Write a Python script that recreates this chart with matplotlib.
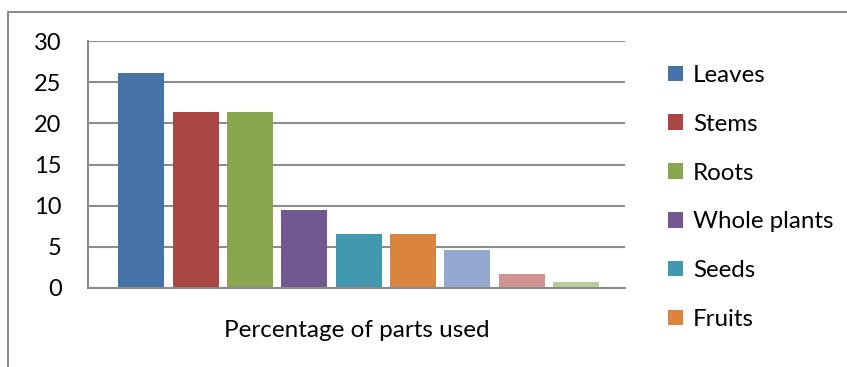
import matplotlib.pyplot as plt
from matplotlib.patches import Rectangle

# parts of the plant and share of use (%)
parts = ['Leaves', 'Stems', 'Roots', 'Whole plants', 'Seeds', 'Fruits',
         'Flowers', 'Bark', 'Others']
percent = [26.1, 21.4, 21.4, 9.5, 6.6, 6.6, 4.6, 1.7, 0.7]
colors = ['#4572A7', '#AA4643', '#89A54E', '#71588F', '#4198AF',
          '#DB843D', '#93A9CF', '#D19392', '#B9CD96']
shown_in_legend = 6  # legend is cut off by the chart edge after "Fruits"

plt.rcParams['font.family'] = ['Lato', 'DejaVu Sans']
grid_grey = '#8c8c8c'

W, H = 847, 367
fig = plt.figure(figsize=(W / 100, H / 100), dpi=100)
ax = fig.add_axes([88 / W, 1 - 288 / H, (625 - 88) / W, (288 - 41) / H])

handles = []
for i, (p, v, c) in enumerate(zip(parts, percent, colors)):
    handles.append(ax.bar(i, v, width=0.85, color=c, label=p, zorder=2))

ax.set_xlim(-0.98, 8.9)
ax.set_ylim(0, 30)
ax.set_yticks(range(0, 31, 5))
ax.set_xticks([])
ax.tick_params(axis='y', length=0, pad=19, labelsize=17)
ax.yaxis.grid(True, color=grid_grey, lw=1.5)
ax.set_axisbelow(True)
for s in ['top', 'right']:
    ax.spines[s].set_visible(False)
for s in ['left', 'bottom']:
    ax.spines[s].set_color(grid_grey)
    ax.spines[s].set_linewidth(1.5)
    ax.spines[s].set_zorder(3)

ax.set_xlabel('Percentage of parts used', fontsize=17.5, labelpad=23)

fig.legend(handles=handles[:shown_in_legend], loc='upper left',
           bbox_to_anchor=(668 / W, 1 - 65 / H), frameon=False,
           fontsize=17.4, handlelength=0.62, handleheight=0.62,
           handletextpad=0.42, labelspacing=1.15, borderpad=0, borderaxespad=0)

# outer chart frame (cut off on the right and bottom)
fig.patches.append(Rectangle((8 / W, -0.1), 1.0, 1.1 - 12 / H,
                             transform=fig.transFigure, fill=False,
                             edgecolor='#808080', lw=1.3))

fig.savefig('out.png', dpi=100)
